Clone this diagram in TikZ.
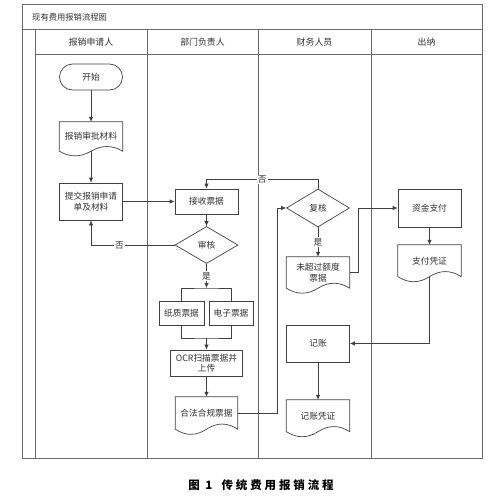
\documentclass[tikz,border=0pt]{standalone}
\usepackage{fontspec}
\setmainfont{Noto Sans CJK SC}
\usetikzlibrary{arrows.meta,shapes.geometric,calc}
\definecolor{ln}{HTML}{404040}
\definecolor{fr}{HTML}{6A6A6A}
\definecolor{tx}{HTML}{303030}
\newcommand\docoutline[1]{%
  \draw[ln, line width=0.7pt] let \p1=(#1.north west), \p2=(#1.south east),
    \n1={\x2-\x1}, \n2={\y1-\y2} in
    (\x1,\y1) -- (\x2,\y1) -- (\x2,\y2)
    .. controls ({\x1+0.8333*\n1},{\y2+0.2118*\n2}) and ({\x1+0.6667*\n1},{\y2+0.2118*\n2}) .. ({\x1+0.5*\n1},\y2)
    .. controls ({\x1+0.3333*\n1},{\y2-0.2118*\n2}) and ({\x1+0.1667*\n1},{\y2-0.2118*\n2}) .. (\x1,\y2) -- cycle;}
\begin{document}
\begin{tikzpicture}[x=1pt,y=-1pt,
  every node/.style={font=\fontsize{8.7}{10.5}\selectfont, text=tx, inner sep=1pt},
  box/.style={draw=ln, line width=0.7pt, minimum width=63pt, align=center},
  term/.style={box, rounded corners=13pt, minimum height=26pt},
  dia/.style={diamond, draw=ln, line width=0.7pt, minimum width=63pt, minimum height=37pt, inner sep=0pt},
  doc/.style={minimum width=63pt, align=center, inner sep=0pt},
  frame/.style={draw=fr, line width=0.7pt},
  arr/.style={draw=ln, line width=0.7pt, -{Latex[length=5pt,width=4.5pt]}},
  con/.style={draw=ln, line width=0.7pt},
  lbl/.style={fill=white, inner sep=1pt},
  hdr/.style={font=\fontsize{8.9}{10.5}\selectfont}]
\useasboundingbox (0,0) rectangle (500,498);
% pool frame
\draw[frame] (22,4) rectangle (482,458);
\draw[frame] (22,29) -- (482,29);
\draw[frame] (35,29) -- (35,458);
\draw[frame] (35,54) -- (482,54);
\foreach \xx in {147,258,371} \draw[frame] (\xx,29) -- (\xx,458);
\node[anchor=west, font=\fontsize{8.3}{10}\selectfont] (title) at (31,17) {现有费用报销流程图};
\node[hdr] (h1) at (91,42) {报销申请人};
\node[hdr] (h2) at (202.5,42) {部门负责人};
\node[hdr] (h3) at (314.5,42) {财务人员};
\node[hdr] (h4) at (426.5,42) {出纳};
% nodes
\node[term] (start) at (91,77) {开始};
\node[doc, minimum height=29pt] (mat) at (91,136.5) {报销审批材料};
\node[box, minimum height=37pt] (submit) at (91,201.5) {提交报销申请\\单及材料};
\node[box, minimum height=25pt] (recv) at (206.5,201.5) {接收票据};
\node[dia] (audit) at (206.5,245) {审核};
\node[box, minimum width=45pt, minimum height=24pt] (paper) at (181.5,313) {纸质票据};
\node[box, minimum width=44pt, minimum height=24pt] (elec) at (231,313) {电子票据};
\node[box, minimum width=72pt, minimum height=26pt] (ocr) at (206.5,363) {OCR扫描票据并\\上传};
\node[doc, minimum width=62pt, minimum height=32pt] (legal) at (206.5,413) {合法合规票据};
\node[dia, minimum height=38pt] (recheck) at (318,208) {复核};
\node[doc, minimum height=31pt] (over) at (318,272.5) {未超过额度\\票据};
\node[box, minimum height=38pt] (pay) at (429.5,208) {资金支付};
\node[doc, minimum height=31.5pt] (pv) at (429.5,260.7) {支付凭证};
\node[box, minimum height=37pt] (book) at (318,343.5) {记账};
\node[doc, minimum height=31.5pt] (bv) at (318,415.7) {记账凭证};
\docoutline{mat}
\docoutline{legal}
\docoutline{over}
\docoutline{pv}
\docoutline{bv}
\coordinate (split) at (206.5,288);
\coordinate (merge) at (206.5,338);
% connectors
\draw[arr] (start) -- (mat);
\draw[arr] (mat) -- (submit);
\draw[arr] (submit) -- (recv);
\draw[arr] (recv) -- (audit);
\draw[arr] (audit.west) -| node[lbl, pos=0.33] {否} (submit.south);
\draw[arr] (audit) -- node[lbl] {是} (split);
\draw[con] (paper.north) |- (split) -| (elec.north);
\draw[con] (paper.south) |- (merge) -| (elec.south);
\draw[arr] (merge) -- (ocr);
\draw[arr] (ocr) -- (legal);
\draw[arr] (legal.east) -- ++(40,0) |- (recheck.west);
\draw[arr] (recheck.north) -- ++(0,-9) -| node[lbl, pos=0.25] {否} (recv.north);
\draw[arr] (recheck) -- node[lbl] {是} (over);
\draw[arr] (over.east) -- ++(9,0) |- (pay.west);
\draw[arr] (pay) -- (pv);
\draw[arr] (pv.south) |- (book.east);
\draw[arr] (book) -- (bv);
% caption
\node[font=\fontsize{11.5}{13}\selectfont\bfseries\addfontfeature{LetterSpace=25}, text=black] (cap) at (261,485) {图 1\hspace{0.8em}传统费用报销流程};
\end{tikzpicture}
\end{document}
